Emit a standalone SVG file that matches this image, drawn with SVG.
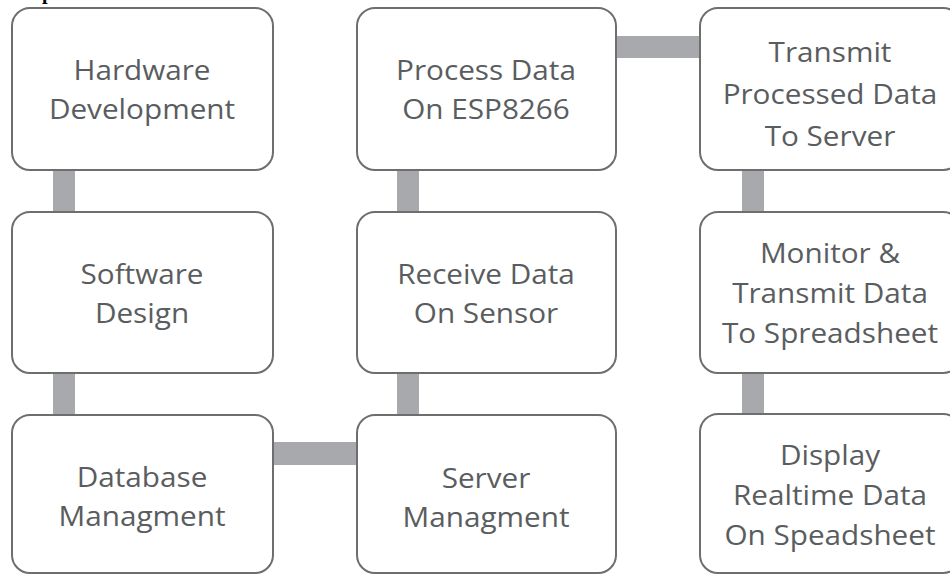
<svg xmlns="http://www.w3.org/2000/svg" width="950" height="574" viewBox="0 0 950 574">
<style>
.box{fill:#ffffff;stroke:#6e6e6e;stroke-width:2}
.conn{fill:#a7a9ac}
.lbl{font-family:"Open Sans","Noto Sans",sans-serif;font-size:27px;fill:#5a5d60;text-anchor:middle}
.frag{font-family:"Liberation Serif",serif;font-weight:bold;font-size:20px;fill:#000}
</style>
<rect width="950" height="574" fill="#ffffff"/>
<text class="frag" x="42" y="-1.5">p</text>
<g id="connectors">
<rect class="conn" x="53" y="168" width="22" height="46"/>
<rect class="conn" x="53" y="371" width="22" height="46"/>
<rect class="conn" x="271" y="442" width="88" height="23"/>
<rect class="conn" x="397" y="371" width="22" height="46"/>
<rect class="conn" x="397" y="168" width="22" height="46"/>
<rect class="conn" x="614" y="36" width="88" height="22"/>
<rect class="conn" x="742" y="168" width="22" height="46"/>
<rect class="conn" x="742" y="371" width="22" height="45"/>
</g>
<g id="hardware">
<rect class="box" x="12" y="8" width="261" height="162" rx="18"/>
<g transform="translate(142,0) scale(1.1,1)"><text class="lbl"><tspan x="0" y="80">Hardware</tspan><tspan x="0" y="119">Development</tspan></text></g>
</g>
<g id="software">
<rect class="box" x="12" y="212" width="261" height="161" rx="18"/>
<g transform="translate(142,0) scale(1.1,1)"><text class="lbl"><tspan x="0" y="284">Software</tspan><tspan x="0" y="323">Design</tspan></text></g>
</g>
<g id="database">
<rect class="box" x="12" y="415" width="261" height="158" rx="18"/>
<g transform="translate(142,0) scale(1.1,1)"><text class="lbl"><tspan x="0" y="487">Database</tspan><tspan x="0" y="526">Managment</tspan></text></g>
</g>
<g id="process">
<rect class="box" x="357" y="8" width="259" height="162" rx="18"/>
<g transform="translate(486,0) scale(1.1,1)"><text class="lbl"><tspan x="0" y="80">Process Data</tspan><tspan x="0" y="119">On ESP8266</tspan></text></g>
</g>
<g id="receive">
<rect class="box" x="357" y="212" width="259" height="161" rx="18"/>
<g transform="translate(486,0) scale(1.1,1)"><text class="lbl"><tspan x="0" y="284">Receive Data</tspan><tspan x="0" y="323">On Sensor</tspan></text></g>
</g>
<g id="server">
<rect class="box" x="357" y="415" width="259" height="158" rx="18"/>
<g transform="translate(486,0) scale(1.1,1)"><text class="lbl"><tspan x="0" y="488">Server</tspan><tspan x="0" y="527">Managment</tspan></text></g>
</g>
<g id="transmit">
<rect class="box" x="700" y="8" width="261" height="162" rx="18"/>
<g transform="translate(830,0) scale(1.1,1)"><text class="lbl"><tspan x="0" y="62">Transmit</tspan><tspan x="0" y="104">Processed Data</tspan><tspan x="0" y="146">To Server</tspan></text></g>
</g>
<g id="monitor">
<rect class="box" x="700" y="212" width="261" height="161" rx="18"/>
<g transform="translate(830,0) scale(1.1,1)"><text class="lbl"><tspan x="0" y="263">Monitor &amp;</tspan><tspan x="0" y="303">Transmit Data</tspan><tspan x="0" y="343">To Spreadsheet</tspan></text></g>
</g>
<g id="display">
<rect class="box" x="700" y="414" width="261" height="159" rx="18"/>
<g transform="translate(830,0) scale(1.1,1)"><text class="lbl"><tspan x="0" y="465">Display</tspan><tspan x="0" y="505">Realtime Data</tspan><tspan x="0" y="545">On Speadsheet</tspan></text></g>
</g>
</svg>
